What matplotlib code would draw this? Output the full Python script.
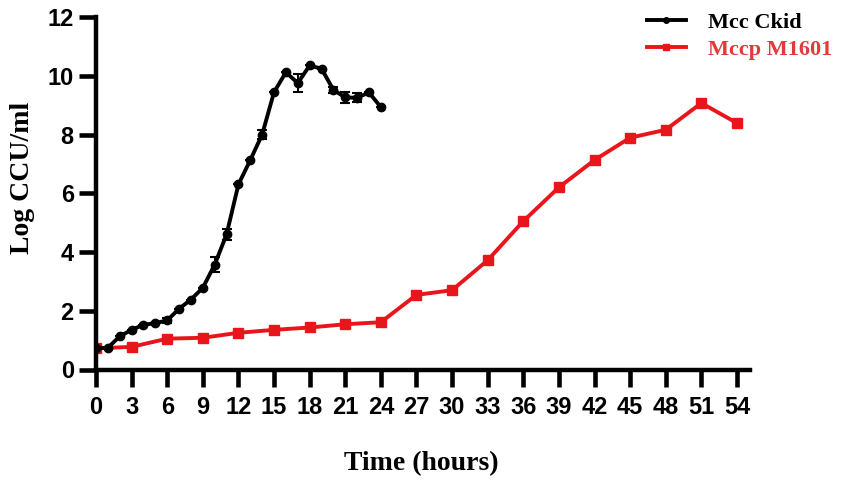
import matplotlib
matplotlib.use("Agg")
import matplotlib.pyplot as plt
from matplotlib.lines import Line2D

# Data
ckid_t = [0, 1, 2, 3, 4, 5, 6, 7, 8, 9, 10, 11, 12, 13, 14, 15, 16, 17, 18, 19, 20, 21, 22, 23, 24]
ckid_v = [0.72, 0.74, 1.13, 1.35, 1.52, 1.58, 1.67, 2.07, 2.38, 2.78, 3.57, 4.6, 6.3, 7.13, 8.0,
          9.44, 10.12, 9.75, 10.35, 10.24, 9.52, 9.26, 9.25, 9.43, 8.93]
ckid_err = [0, 0, 0, 0, 0, 0, 0.08, 0, 0, 0, 0.25, 0.2, 0, 0, 0.15,
            0, 0, 0.3, 0, 0, 0.1, 0.2, 0.15, 0, 0]

m1601_t = [0, 3, 6, 9, 12, 15, 18, 21, 24, 27, 30, 33, 36, 39, 42, 45, 48, 51, 54]
m1601_v = [0.72, 0.77, 1.05, 1.08, 1.25, 1.35, 1.43, 1.54, 1.61, 2.54, 2.70, 3.72, 5.05,
           6.2, 7.13, 7.89, 8.16, 9.07, 8.39]

xticks = list(range(0, 55, 3))
yticks = [0, 2, 4, 6, 8, 10, 12]

BLACK = "#000000"
RED = "#e8161b"
RED_TXT = "#e03a3a"

fig = plt.figure(figsize=(8.51, 4.88), dpi=100)
ax = fig.add_axes([96/851, 1 - 369.5/488, 654/851, 352.5/488])

ax.plot(m1601_t, m1601_v, color=RED, lw=2.8, marker="s", ms=6.5, zorder=2,
        label="Mccp M1601")
ax.errorbar(ckid_t, ckid_v, yerr=ckid_err, color=BLACK, lw=2.8, marker="o", ms=6,
            capsize=3.5, elinewidth=1.5, capthick=1.5, zorder=3, label="Mcc Ckid")

ax.set_xlim(0, 55.1)
ax.set_ylim(0, 12)
ax.set_xticks(xticks)
ax.set_yticks(yticks)

for s in ["top", "right"]:
    ax.spines[s].set_visible(False)
for s in ["left", "bottom"]:
    ax.spines[s].set_linewidth(3.2)
ax.spines["left"].set_capstyle("projecting")

ax.tick_params(axis="both", direction="out", length=12, width=3.3)
ax.tick_params(axis="x", pad=7)
ax.tick_params(axis="y", pad=4)
for lab in ax.get_xticklabels() + ax.get_yticklabels():
    lab.set_fontfamily("Liberation Sans")
    lab.set_fontweight("bold")
    lab.set_fontsize(17)

ax.set_xlabel("Time (hours)", fontfamily="Liberation Serif", fontweight="bold",
              fontsize=20)
ax.set_ylabel("Log CCU/ml", fontfamily="Liberation Serif", fontweight="bold",
              fontsize=20)
ax.xaxis.set_label_coords(0.497, -(463 - 369) / 352, transform=ax.transAxes)
ax.xaxis.label.set_va("center")
ax.yaxis.set_label_coords((23 - 96) / 654, (369 - 178) / 352, transform=ax.transAxes)
ax.yaxis.label.set_va("center")

h1 = Line2D([], [], color=BLACK, lw=2.8, marker="o", ms=4)
h2 = Line2D([], [], color=RED, lw=2.8, marker="s", ms=5)
leg = fig.legend([h1, h2], ["Mcc Ckid", "Mccp M1601"], loc="upper left",
                 bbox_to_anchor=(627/851, 1 + 8/488), frameon=False,
                 prop={"family": "Liberation Serif", "weight": "bold", "size": 16},
                 handlelength=1.75, handletextpad=1.0, labelspacing=0.3)
leg.get_texts()[0].set_color(BLACK)
leg.get_texts()[1].set_color(RED_TXT)

fig.savefig("out.png", dpi=100)
